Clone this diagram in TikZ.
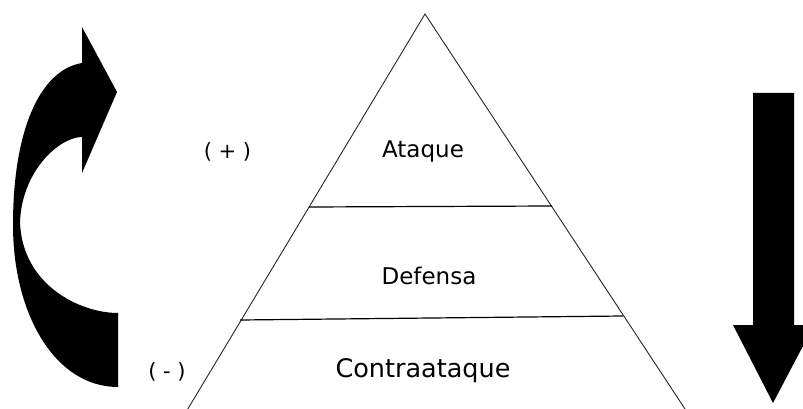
\documentclass[tikz,border=0pt]{standalone}
\usepackage{fontspec}
\setmainfont{DejaVu Sans}
\usepackage{tikz}
\usetikzlibrary{calc}
\tikzset{
    % pyramid lines and labels
    side/.style={draw=black!85,line width=0.9pt},
    divider/.style={draw=black,line width=1.2pt},
    lvl/.style={inner sep=0pt,font=\fontsize{23}{27}\selectfont},
    sign/.style={inner sep=0pt,font=\fontsize{21}{25}\selectfont},
    % thick black arrows
    bigarrow/.style={fill=black,draw=none}
}
\begin{document}
\begin{tikzpicture}[x=1pt,y=-1pt]
\clip (0,0) rectangle (803,409);
\fill[white] (0,0) rectangle (803,409);

% pyramid
\coordinate (apex) at (425,14);
\coordinate (bl) at (186,412);
\coordinate (br) at (687,412);
\draw[side] (bl) -- (apex) -- (br);
\draw[divider] (309,207) -- (552,206);
\draw[divider] (240,320) -- (623,316);

% levels
\node[lvl] (ataque) at (423,151.5) {Ataque};
\node[lvl] (defensa) at (429,276) {Defensa};
\node[lvl,font=\fontsize{25.5}{30}\selectfont] (contra) at (423,370.5) {Contraataque};
\node[sign] (mas) at (227.5,152) {( + )};
\node[sign] (menos) at (167,372) {( - )};

% curved arrow on the left
\fill[bigarrow] (82,137) -- (82,173) -- (117,92) -- (82,27) -- (82,63)
    .. controls (40,70) and (13,130) .. (13,225)
    .. controls (13,314) and (55,387) .. (118,387)
    -- (118,313)
    .. controls (80,313) and (22,285) .. (20,222)
    .. controls (22,170) and (60,137) .. (82,137) -- cycle;

% down arrow on the right
\fill[bigarrow] (753,93) -- (794,93) -- (794,325) -- (814,325) -- (773,403)
    -- (733,325) -- (753,325) -- cycle;

\end{tikzpicture}
\end{document}
